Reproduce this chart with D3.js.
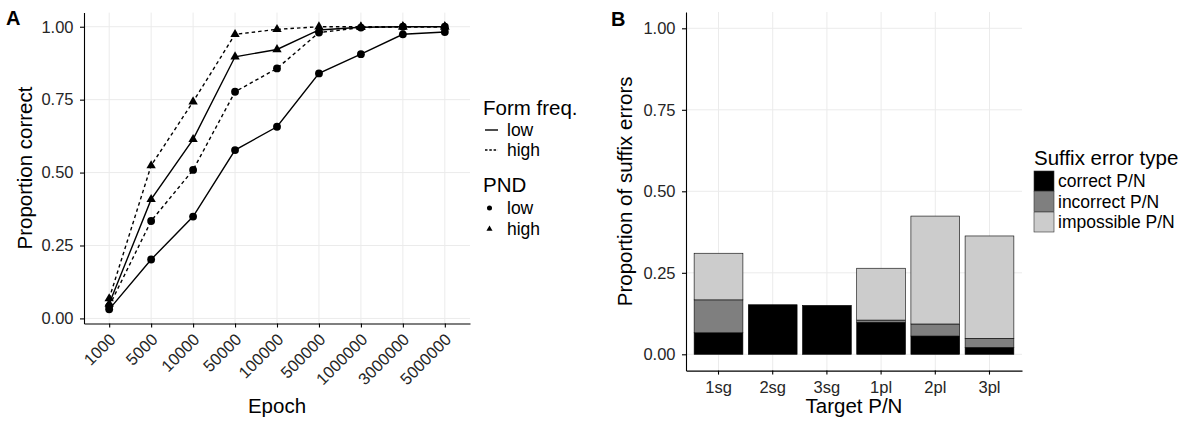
<!DOCTYPE html>
<html>
<head>
<meta charset="utf-8">
<script src="https://cdn.jsdelivr.net/npm/d3@7"></script>
<style>
  body { margin: 0; background: #fff; }
  svg { display: block; font-family: "Liberation Sans", Arial, Helvetica, sans-serif; }
  .grid line { stroke: #ebebeb; stroke-width: 1; }
  .axis path, .axis line { stroke: #000; stroke-width: 1.1; }
  .axis text { fill: #262626; font-size: 16.5px; }
  .legend text { font-size: 17.5px; fill: #000; }
  text.title, .legend text.title { font-size: 20.5px; fill: #000; }
</style>
</head>
<body>
<script>
// ---- panel A : proportion correct by epoch ----
const epochs = ["1000", "5000", "10000", "50000", "100000", "500000", "1000000", "3000000", "5000000"];
const formFreqLevels = ["low", "high"];
const pndLevels = ["low", "high"];
const lowFreqLowPND   = [0.031, 0.202, 0.349, 0.577, 0.657, 0.840, 0.906, 0.974, 0.982];
const lowFreqHighPND  = [0.050, 0.408, 0.614, 0.897, 0.922, 0.989, 0.998, 1.000, 1.000];
const highFreqLowPND  = [0.042, 0.334, 0.509, 0.777, 0.857, 0.980, 0.997, 1.000, 1.000];
const highFreqHighPND = [0.068, 0.524, 0.743, 0.974, 0.991, 1.000, 1.000, 1.000, 1.000];
const yTicksA = [0, 0.25, 0.5, 0.75, 1];

// ---- panel B : suffix errors by target P/N ----
const targets = ["1sg", "2sg", "3sg", "1pl", "2pl", "3pl"];
const errorTypes = ["correct P/N", "incorrect P/N", "impossible P/N"];
const correctPN    = [0.066, 0.152, 0.150, 0.098, 0.056, 0.021];
const incorrectPN  = [0.101, 0.000, 0.000, 0.007, 0.037, 0.028];
const impossiblePN = [0.143, 0.000, 0.000, 0.159, 0.331, 0.314];
const errorColors = ["#000000", "#7f7f7f", "#cccccc"];
const yTicksB = [0, 0.25, 0.5, 0.75, 1];

const W = 1188, H = 424;
const svg = d3.select("body").append("svg").attr("width", W).attr("height", H);
svg.append("rect").attr("width", W).attr("height", H).attr("fill", "#fff");

const fmt = d3.format(".2f");

// ================= panel A =================
const pA = {left: 84, right: 470, top: 12.6, bottom: 323.5};

const seriesA = [
  {freq: "low",  pnd: "low",  values: lowFreqLowPND},
  {freq: "low",  pnd: "high", values: lowFreqHighPND},
  {freq: "high", pnd: "low",  values: highFreqLowPND},
  {freq: "high", pnd: "high", values: highFreqHighPND}
];

const xA = d3.scalePoint().domain(epochs).range([pA.left, pA.right]).padding(0.6);
const extA = d3.extent(seriesA.flatMap(s => s.values));
const expA = (extA[1] - extA[0]) * 0.05;
const yA = d3.scaleLinear().domain([extA[0] - expA, extA[1] + expA]).range([pA.bottom, pA.top]);

const gA = svg.append("g");
// grid
const gridA = gA.append("g").attr("class", "grid");
gridA.selectAll(".h").data(yTicksA).join("line")
  .attr("x1", pA.left).attr("x2", pA.right)
  .attr("y1", d => yA(d)).attr("y2", d => yA(d));
gridA.selectAll(".v").data(epochs).join("line")
  .attr("x1", d => xA(d)).attr("x2", d => xA(d))
  .attr("y1", pA.top).attr("y2", pA.bottom);

// lines
const dashFor = f => f === "high" ? "3.5,3" : null;
const lineA = d3.line().x((d, i) => xA(epochs[i])).y(d => yA(d));
gA.selectAll(".series").data(seriesA).join("path")
  .attr("fill", "none").attr("stroke", "#000").attr("stroke-width", 1.4)
  .attr("stroke-dasharray", d => dashFor(d.freq))
  .attr("d", d => lineA(d.values));

// points
const symFor = p => p === "high" ? d3.symbolTriangle : d3.symbolCircle;
const pts = seriesA.flatMap(s => s.values.map((v, i) => ({epoch: epochs[i], v: v, pnd: s.pnd})));
gA.selectAll(".pt").data(pts).join("path")
  .attr("transform", d => `translate(${xA(d.epoch)},${yA(d.v)})`)
  .attr("d", d => d3.symbol(symFor(d.pnd), d.pnd === "high" ? 38 : 48)())
  .attr("fill", "#000");

// axes
gA.append("g").attr("class", "axis")
  .attr("transform", `translate(${pA.left},0)`)
  .call(d3.axisLeft(yA).tickValues(yTicksA).tickFormat(fmt).tickSize(4).tickSizeOuter(0).tickPadding(6.5));
const axXA = gA.append("g").attr("class", "axis")
  .attr("transform", `translate(0,${pA.bottom})`)
  .call(d3.axisBottom(xA).tickSize(4).tickSizeOuter(0));
axXA.selectAll("text")
  .attr("x", 0).attr("y", 0).attr("dy", 0)
  .attr("text-anchor", "end")
  .attr("transform", "translate(7,17) rotate(-45)");

gA.append("text").attr("class", "title")
  .attr("x", (pA.left + pA.right) / 2).attr("y", 413)
  .attr("text-anchor", "middle").text("Epoch");
gA.append("text").attr("class", "title")
  .attr("transform", `translate(32,${(pA.top + pA.bottom) / 2}) rotate(-90)`)
  .attr("text-anchor", "middle").text("Proportion correct");
gA.append("text").attr("x", 6).attr("y", 25)
  .attr("font-size", 20).attr("font-weight", "bold").text("A");

// legend A
const legA = gA.append("g").attr("class", "legend");
legA.append("text").attr("class", "title").attr("x", 483).attr("y", 115).text("Form freq.");
formFreqLevels.forEach((f, i) => {
  const cy = 130 + i * 20;
  legA.append("line").attr("x1", 485).attr("x2", 498).attr("y1", cy).attr("y2", cy)
    .attr("stroke", "#000").attr("stroke-width", 1.4)
    .attr("stroke-dasharray", f === "high" ? "2.5,1.8" : null);
  legA.append("text").attr("x", 507).attr("y", cy + 6).text(f);
});
legA.append("text").attr("class", "title").attr("x", 483).attr("y", 192).text("PND");
pndLevels.forEach((p, i) => {
  const cy = 208 + i * 21;
  legA.append("path")
    .attr("transform", `translate(489.5,${cy})`)
    .attr("d", d3.symbol(symFor(p), p === "high" ? 16 : 20)())
    .attr("fill", "#000");
  legA.append("text").attr("x", 507).attr("y", cy + 6).text(p);
});

// ================= panel B =================
const pB = {left: 686, right: 1022, top: 12, bottom: 370.6};

const xB = d3.scaleBand().domain(targets).range([pB.left, pB.right])
  .paddingInner(0.1).paddingOuter(0.15);
const yB = d3.scaleLinear().domain([-0.05, 1.05]).range([pB.bottom, pB.top]);

const gB = svg.append("g");
const gridB = gB.append("g").attr("class", "grid");
gridB.selectAll(".h").data(yTicksB).join("line")
  .attr("x1", pB.left).attr("x2", pB.right)
  .attr("y1", d => yB(d)).attr("y2", d => yB(d));
gridB.selectAll(".v").data(targets).join("line")
  .attr("x1", d => xB(d) + xB.bandwidth() / 2).attr("x2", d => xB(d) + xB.bandwidth() / 2)
  .attr("y1", pB.top).attr("y2", pB.bottom);

const tableB = targets.map((t, i) => ({
  target: t,
  "correct P/N": correctPN[i],
  "incorrect P/N": incorrectPN[i],
  "impossible P/N": impossiblePN[i]
}));
const stacked = d3.stack().keys(errorTypes)(tableB);

stacked.forEach((layer, k) => {
  gB.append("g").selectAll("rect")
    .data(layer.filter(d => d[1] - d[0] > 0))
    .join("rect")
    .attr("x", d => xB(d.data.target))
    .attr("width", xB.bandwidth())
    .attr("y", d => yB(d[1]))
    .attr("height", d => yB(d[0]) - yB(d[1]))
    .attr("fill", errorColors[k])
    .attr("stroke", "#000").attr("stroke-width", 0.6);
});

gB.append("g").attr("class", "axis")
  .attr("transform", `translate(${pB.left},0)`)
  .call(d3.axisLeft(yB).tickValues(yTicksB).tickFormat(fmt).tickSize(4).tickSizeOuter(0).tickPadding(6.5));
gB.append("g").attr("class", "axis")
  .attr("transform", `translate(0,${pB.bottom})`)
  .call(d3.axisBottom(xB).tickSize(4).tickSizeOuter(0).tickPadding(7));

gB.append("text").attr("class", "title")
  .attr("x", (pB.left + pB.right) / 2).attr("y", 413)
  .attr("text-anchor", "middle").text("Target P/N");
gB.append("text").attr("class", "title")
  .attr("transform", `translate(632,${(pB.top + pB.bottom) / 2}) rotate(-90)`)
  .attr("text-anchor", "middle").text("Proportion of suffix errors");
gB.append("text").attr("x", 611).attr("y", 26)
  .attr("font-size", 20).attr("font-weight", "bold").text("B");

// legend B
const legB = gB.append("g").attr("class", "legend");
legB.append("text").attr("class", "title").attr("x", 1034).attr("y", 165).text("Suffix error type");
errorTypes.forEach((e, i) => {
  const y0 = 171 + i * 20.5;
  legB.append("rect").attr("x", 1034).attr("y", y0).attr("width", 20).attr("height", 20)
    .attr("fill", errorColors[i]).attr("stroke", "#333").attr("stroke-width", 0.6);
  legB.append("text").attr("x", 1058).attr("y", y0 + 16).text(e);
});
</script>
</body>
</html>
